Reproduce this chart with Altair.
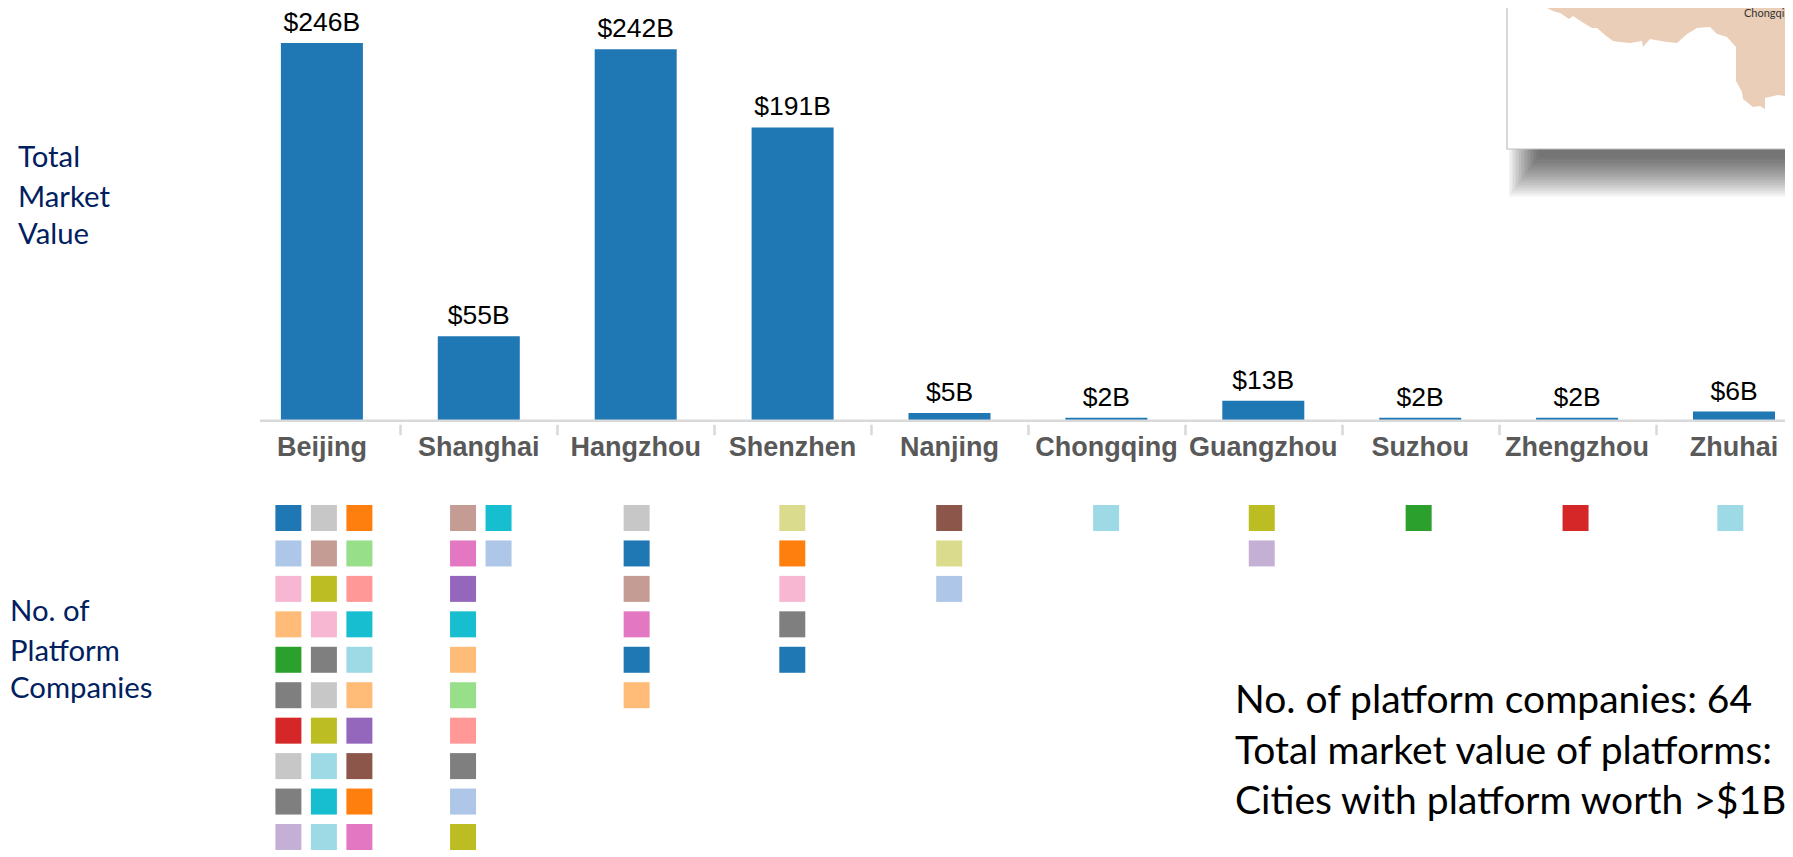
import altair as alt
import pandas as pd

cities = ["Beijing", "Shanghai", "Hangzhou", "Shenzhen", "Nanjing", "Chongqing", "Guangzhou", "Suzhou", "Zhengzhou", "Zhuhai"]
market_values = [246, 55, 242, 191, 5, 2, 13, 2, 2, 6]
value_labels = ["$246B", "$55B", "$242B", "$191B", "$5B", "$2B", "$13B", "$2B", "$2B", "$6B"]

beijing = ["#1f77b4", "#c7c7c7", "#ff7f0e", "#aec7e8", "#c49c94", "#98df8a", "#f7b6d2", "#bcbd22", "#ff9896", "#ffbb78",
           "#f7b6d2", "#17becf", "#2ca02c", "#7f7f7f", "#9edae5", "#7f7f7f", "#c7c7c7", "#ffbb78", "#d62728", "#bcbd22",
           "#9467bd", "#c7c7c7", "#9edae5", "#8c564b", "#7f7f7f", "#17becf", "#ff7f0e", "#c5b0d5", "#9edae5", "#e377c2"]
shanghai_pairs = ["#c49c94", "#17becf", "#e377c2", "#aec7e8"]
shanghai_single = ["#9467bd", "#17becf", "#ffbb78", "#98df8a", "#ff9896", "#7f7f7f", "#aec7e8", "#bcbd22"]
single_columns = {
    "Hangzhou": ["#c7c7c7", "#1f77b4", "#c49c94", "#e377c2", "#1f77b4", "#ffbb78"],
    "Shenzhen": ["#dbdb8d", "#ff7f0e", "#f7b6d2", "#7f7f7f", "#1f77b4"],
    "Nanjing": ["#8c564b", "#dbdb8d", "#aec7e8"],
    "Chongqing": ["#9edae5"],
    "Guangzhou": ["#bcbd22", "#c5b0d5"],
    "Suzhou": ["#2ca02c"],
    "Zhengzhou": ["#d62728"],
    "Zhuhai": ["#9edae5"],
}
single_column_nudge = {"Hangzhou": -0.03, "Shenzhen": -0.065, "Nanjing": -0.065, "Chongqing": -0.065,
                       "Guangzhou": -0.1, "Suzhou": -0.1, "Zhengzhou": -0.1, "Zhuhai": -0.16}

left_labels = [("Total", 18, 158), ("Market", 18, 198), ("Value", 18, 235),
               ("No. of", 10, 612), ("Platform", 10, 652), ("Companies", 10, 689)]
summary_lines = [("No. of platform companies: 64", 1235, 701),
                 ("Total market value of platforms:", 1235, 752),
                 ("Cities with platform worth >$1B:", 1235, 802)]

# Map coastline, west to east; x never steps backwards so the area stays one piece
map_outline_x = [1546, 1547, 1553, 1560, 1569, 1573, 1582, 1592, 1597, 1605, 1613, 1620, 1630, 1642, 1643, 1650,
                 1667, 1677, 1687, 1697, 1710, 1717, 1727, 1736, 1736, 1736, 1742, 1743, 1753, 1760,
                 1765, 1765, 1778, 1793, 1800]
map_outline_y = [8, 8, 11, 13, 19, 16, 22, 28, 28, 35, 41, 42, 43, 41, 47, 39, 42, 43, 34, 28, 27, 34, 37, 47, 62,
                 81, 92, 99, 107, 106, 109, 98, 95, 97, 97]

# shadow: left edge and bottom edge of each stacked veil
shadow_left = [1509, 1510, 1512, 1513, 1515, 1516, 1518, 1519, 1521, 1522,
               1524, 1525, 1527, 1528, 1530, 1531, 1533, 1534, 1536, 1538]
shadow_bottom = [197, 195, 193, 191, 189, 187, 185, 183, 181, 179,
                 177, 175, 173, 171, 169, 167, 165, 163, 160, 158]

W, H = 1777, 846
BAND_RANGE = [272.9, 1767]
PADDING_INNER = 0.4774
STEP = 156.9

bars_df = pd.DataFrame({"city": cities, "value": market_values, "label": value_labels})

rows = []
for i, c in enumerate(beijing):
    rows.append(("Beijing", i % 3 - 1, i // 3, c))
for i, c in enumerate(shanghai_pairs):
    rows.append(("Shanghai", i % 2 - 0.5, i // 2, c))
for i, c in enumerate(shanghai_single):
    rows.append(("Shanghai", -0.5, i + 2, c))
for city, cols in single_columns.items():
    for i, c in enumerate(cols):
        rows.append((city, single_column_nudge[city], i, c))
squares_df = pd.DataFrame(rows, columns=["city", "col", "row", "color"])


def band(axis=None):
    return alt.X("city:N", sort=cities, axis=axis, title=None,
                 scale=alt.Scale(type="band", domain=cities, range=BAND_RANGE, paddingInner=PADDING_INNER, paddingOuter=0))


val_y = alt.Y("value:Q", axis=None, scale=alt.Scale(domain=[0, 246], range=[412.8, 35]))


def px(f):
    return alt.X(f, axis=None, scale=alt.Scale(domain=[8, 8 + W], range=[0, W]))


def py(f):
    return alt.Y(f, axis=None, scale=alt.Scale(domain=[8, 8 + H], range=[0, H]))


label_axis = alt.Axis(offset=412.8 - H, domain=False, ticks=False, labelAngle=0, labelFont="Liberation Sans",
                      labelFontWeight="bold", labelFontSize=27, labelColor="#595959", labelPadding=6.5,
                      labelOverlap=False, labelLimit=0, grid=False)
tick_axis = alt.Axis(offset=412.8 - H, domain=False, labels=False, tickColor="#d9d9d9", tickWidth=2.5, tickSize=14,
                     tickOffset=STEP / 2, grid=False)

bars = alt.Chart(bars_df).mark_bar(color="#1f77b4", size=82).encode(
    x=band(label_axis), y=val_y, y2=alt.datum(0))
tick_layer = alt.Chart(bars_df).mark_point(opacity=0).encode(x=band(tick_axis), y=val_y)
value_text = alt.Chart(bars_df).mark_text(font="Liberation Sans", fontSize=26.5, color="#000000", baseline="bottom", dy=-6).encode(
    x=band(), y=val_y, text="label:N")

# white gap that detaches the ticks from the axis line, then the axis line itself
gap = alt.Chart(pd.DataFrame({"a": [260], "b": [1800], "y": [423.5]})).mark_rule(color="white", strokeWidth=2.5).encode(
    x=px("a:Q"), x2="b:Q", y=py("y:Q"))
axis_line = alt.Chart(pd.DataFrame({"a": [260], "b": [1800], "y": [420.8]})).mark_rule(color="#d9d9d9", strokeWidth=2.5).encode(
    x=px("a:Q"), x2="b:Q", y=py("y:Q"))

squares = alt.Chart(squares_df).mark_square(size=676, opacity=1).encode(
    x=band(),
    xOffset=alt.XOffset("col:Q", scale=alt.Scale(domain=[-1, 1], range=[7.5, 78.5])),
    y=alt.Y("row:Q", axis=None, scale=alt.Scale(domain=[0, 9], range=[510, 829])),
    color=alt.Color("color:N", scale=None),
)

left_df = pd.DataFrame(left_labels, columns=["t", "x", "y"])
left_text = alt.Chart(left_df).mark_text(font="Lato", fontSize=29.3, color="#002060", align="left", baseline="middle").encode(
    x=px("x:Q"), y=py("y:Q"), text="t:N")

sum_df = pd.DataFrame(summary_lines, columns=["t", "x", "y"])
sum_text = alt.Chart(sum_df).mark_text(font="Lato", fontSize=39, color="#000000", align="left", baseline="middle").encode(
    x=px("x:Q"), y=py("y:Q"), text="t:N")

shadow_df = pd.DataFrame({"l": shadow_left, "b": shadow_bottom, "r": 1810, "t": 100})
shadow = alt.Chart(shadow_df).mark_rect(color="#000000", opacity=0.034).encode(
    x=px("l:Q"), x2="r:Q", y=py("t:Q"), y2="b:Q")

box_df = pd.DataFrame({"l": [1507], "r": [1810], "t": [-10], "b": [149]})
box = alt.Chart(box_df).mark_rect(fill="white", stroke="#bfbfbf", strokeWidth=1.2).encode(
    x=px("l:Q"), x2="r:Q", y=py("t:Q"), y2="b:Q")

map_df = pd.DataFrame({"x": map_outline_x, "y": map_outline_y})
map_df["y0"] = 8
map_shape = alt.Chart(map_df).mark_area(color="#ebceb7", opacity=1).encode(
    x=px("x:Q"), y=py("y:Q"), y2="y0:Q")

map_label = alt.Chart(pd.DataFrame({"t": ["Chongqing"], "x": [1744], "y": [14]})).mark_text(
    font="Lato", fontSize=11, color="#333333", align="left", baseline="middle").encode(
    x=px("x:Q"), y=py("y:Q"), text="t:N")

chart = alt.layer(tick_layer, bars, value_text, gap, axis_line, squares, left_text, sum_text, shadow, box, map_shape, map_label).resolve_scale(
    x="independent", y="independent", color="independent"
).properties(
    width=W, height=H, padding=0, background="white",
    autosize=alt.AutoSizeParams(type="none"),
).configure_view(stroke=None)

chart.save("out.html", embed_options={"renderer": "svg", "actions": False})
